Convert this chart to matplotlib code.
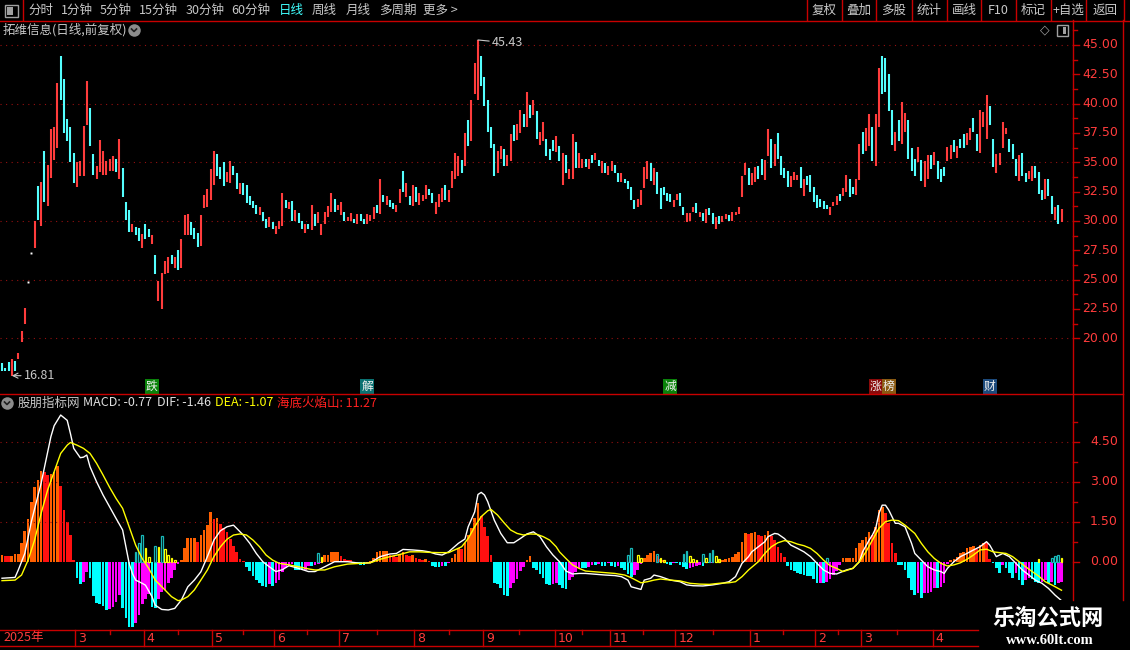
import numpy as np
import matplotlib
matplotlib.use('Agg')
import matplotlib.pyplot as plt
from matplotlib import transforms
from matplotlib.lines import Line2D
from matplotlib.patches import Rectangle

plt.rcParams['font.family'] = ['Noto Sans CJK SC', 'DejaVu Sans']

# ---------------- data ----------------
# daily bars: high / low, colour r=up c=down w=one-price bar
price_hi = [
    17.9, 17.5, 18.0, 18.2, 18.1, 18.7, 20.6, 22.6, 24.8, 27.3,
    30.0, 33.0, 33.3, 36.0, 34.8, 37.8, 38.0, 41.8, 44.1, 42.1,
    38.7, 38.0, 35.8, 35.0, 35.1, 38.1, 41.9, 39.6, 35.7, 34.7,
    36.9, 36.0, 35.1, 35.3, 35.5, 35.3, 37.0, 34.5, 31.6, 30.9,
    29.7, 29.5, 29.4, 28.9, 29.7, 29.3, 28.8, 27.1, 24.9, 25.6,
    26.6, 26.9, 27.1, 26.9, 27.5, 28.5, 30.5, 30.6, 29.9, 29.4,
    29.0, 30.5, 32.2, 32.7, 34.4, 36.0, 35.7, 34.6, 35.0, 34.2,
    35.1, 34.7, 34.1, 33.2, 33.2, 33.1, 32.1, 31.7, 31.4, 31.2,
    30.8, 30.2, 30.3, 29.9, 29.6, 30.0,
    32.4, 31.8, 31.6, 31.7, 30.9, 30.7, 30.0, 29.7, 29.7, 31.4,
    30.6, 30.8, 29.7, 30.8, 31.3, 32.4, 31.9, 31.4, 31.6, 30.8,
    30.3, 30.7, 30.2, 30.6, 30.6, 30.2, 30.6, 30.5, 31.2, 31.4,
    33.6, 32.2, 32.1, 31.8, 31.5, 31.4, 32.7, 34.3, 33.2, 32.1,
    33.1, 32.9, 32.4, 32.2, 33.1, 32.7, 32.4, 31.6, 32.3, 32.8,
    33.1, 32.6, 34.3, 35.8, 35.5, 35.2, 37.5, 38.6, 40.3, 43.5,
    45.43, 44.1, 42.3, 40.3, 38.0, 36.6, 36.0, 36.4, 36.1, 35.6,
    37.4, 38.2, 38.3, 39.5, 39.1, 41.0, 39.9, 40.3, 39.4, 37.6,
    38.4, 37.0, 36.1, 36.9, 37.2, 36.4, 35.8, 35.6, 34.4, 37.4,
    36.7, 35.8, 35.3, 35.3, 35.3, 35.6, 35.8, 35.2, 35.1, 34.9,
    34.7, 35.1, 34.8, 34.1, 34.1, 33.6, 33.4, 32.9, 31.8, 31.9,
    32.6, 34.6, 35.1, 34.9, 34.5, 34.2, 32.8, 32.9, 32.4, 32.3,
    31.8, 32.3, 32.4, 31.2, 30.7, 30.7, 31.2, 31.5, 30.8, 30.7,
    31.0, 31.1, 30.7, 30.3, 30.4, 30.4, 30.6, 30.5, 30.8, 30.8,
    31.2, 33.8, 34.9, 34.5, 34.1, 34.6, 34.7, 35.3, 35.2, 37.8,
    37.0, 36.6, 37.5, 35.5, 34.5, 34.3, 33.8, 34.2, 33.9, 34.6,
    33.6, 33.8, 33.9,
    32.9, 32.2, 31.9, 31.7, 31.4, 31.2, 31.6, 32.1, 32.3, 32.8,
    33.9, 33.6, 32.9, 33.6, 36.6, 37.6, 37.9, 39.1, 38.0, 39.1,
    43.0, 44.1, 43.9, 42.5, 39.5, 37.6, 38.6, 40.1, 39.2, 38.6,
    36.2, 35.3, 36.3, 35.2, 35.1, 35.6, 35.6, 35.9, 35.1, 34.4,
    34.6, 36.3, 36.5, 36.9, 36.4, 37.0, 37.4, 37.5, 37.9, 38.8,
    37.4, 39.5, 39.3, 40.7, 39.8, 37.0, 35.7, 35.8, 38.4, 37.9,
    37.0, 36.6, 35.3, 35.6, 35.8, 34.1, 34.3, 34.7, 34.7, 34.2,
    32.6, 33.6, 33.6, 32.1, 31.2, 31.4, 31.0,
]
price_lo = [
    17.2, 17.2, 17.2, 16.81, 17.2, 18.2, 19.7, 21.2, 24.8, 27.3,
    27.7, 30.1, 29.6, 31.6, 31.3, 33.7, 35.2, 36.2, 40.3, 37.5,
    36.8, 35.0, 33.2, 32.9, 33.8, 33.8, 38.2, 36.4, 33.9, 33.6,
    34.2, 33.9, 33.9, 34.3, 34.3, 34.2, 33.6, 32.0, 30.1, 29.1,
    29.1, 28.8, 28.3, 27.7, 28.5, 28.6, 28.0, 25.5, 23.2, 22.5,
    25.5, 25.6, 26.3, 26.0, 25.8, 26.0, 28.8, 28.8, 28.8, 28.5,
    27.8, 27.9, 31.1, 31.2, 31.8, 33.1, 33.8, 33.6, 33.0, 33.3,
    33.2, 33.9, 32.7, 32.3, 32.2, 31.5, 31.4, 31.1, 30.6, 30.5,
    30.0, 29.4, 29.5, 29.3, 28.9, 29.3,
    29.6, 31.1, 31.0, 30.0, 30.0, 29.8, 29.3, 29.0, 29.3, 29.2,
    29.6, 29.8, 28.8, 29.7, 30.3, 30.8, 30.8, 30.9, 30.5, 30.0,
    30.0, 30.0, 29.8, 29.7, 30.0, 29.7, 29.7, 30.0, 30.2, 30.7,
    30.6, 31.6, 31.4, 31.2, 31.0, 30.8, 31.5, 32.5, 32.0, 31.4,
    31.3, 31.6, 31.4, 31.7, 31.9, 32.2, 31.5, 30.6, 31.2, 31.6,
    31.8, 31.6, 32.8, 33.6, 33.8, 34.1, 34.7, 36.4, 36.8, 40.8,
    40.3, 41.5, 39.8, 37.6, 36.2, 33.8, 34.1, 35.3, 34.7, 34.7,
    35.1, 36.8, 36.9, 37.5, 38.0, 38.0, 38.8, 39.0, 37.0, 36.5,
    36.8, 35.5, 35.2, 36.0, 35.9, 35.1, 33.1, 34.1, 33.6, 33.6,
    34.5, 34.5, 34.5, 34.6, 34.4, 34.9, 35.2, 34.7, 34.1, 34.1,
    33.9, 34.3, 34.1, 33.3, 33.3, 33.2, 32.7, 31.8, 31.0, 31.2,
    31.4, 32.8, 33.6, 33.4, 33.1, 32.3, 31.0, 32.2, 31.7, 31.6,
    31.2, 31.8, 31.3, 30.5, 29.9, 30.0, 30.8, 30.7, 30.3, 30.0,
    29.8, 30.5, 29.7, 29.3, 29.7, 29.9, 30.2, 30.0, 30.0, 30.5,
    30.6, 32.0, 33.9, 33.1, 33.1, 33.3, 33.6, 33.9, 33.5, 35.5,
    34.5, 34.7, 35.3, 33.9, 33.7, 32.9, 32.9, 33.5, 33.5, 32.8,
    32.1, 33.1, 32.5,
    31.6, 31.1, 31.2, 31.0, 31.0, 30.5, 31.3, 31.4, 31.7, 32.1,
    32.5, 32.0, 32.3, 32.2, 33.5, 35.7, 36.0, 36.4, 35.1, 34.7,
    38.0, 40.8, 41.0, 39.4, 36.5, 36.0, 36.8, 36.6, 37.6, 35.3,
    34.3, 33.8, 35.0, 33.4, 32.9, 33.6, 34.4, 34.8, 33.6, 33.3,
    33.8, 35.1, 35.3, 35.9, 35.4, 36.2, 36.2, 36.5, 36.9, 37.6,
    36.0, 35.8, 38.0, 37.0, 38.2, 34.6, 34.1, 34.8, 36.2, 37.4,
    35.9, 35.3, 33.8, 33.4, 33.8, 33.3, 33.6, 33.4, 33.7, 32.3,
    31.8, 31.9, 32.1, 30.6, 30.1, 29.7, 29.9,
]
candle_col = (
    "cccrcrrrww" "rcrcrrrrcc" "cccrrrrccr" "rrrrrcrccc" "rccrccrcrr"
    "rrcrcrrrcc" "crrrrrcccr" "rccrcccccr" "ccrcrr"
    "rcrcrccrcr" "crrrrrcrrc" "rrcrccrrrc" "rcrccrrcrc" "rcrrrccrrr"
    "crrrrcrcrr" "rcccccrrcr" "rcrrcrcrcr"
    "rcccrcrcrr" "crrcrcrcrc" "rrccrccccr" "rrrcrccccc" "rrccrrrcrc"
    "rccrcrrcrr" "rrrcrrccrr" "crccccrrrc" "rcc"
    "cccccrrrcr" "rccrrcrrcr" "rccccrcrrc" "ccrcrrcrcc" "crrcrccrrc"
    "crrrccrrrr" "cccrccrrcc" "crccrcr"
)

# MACD histogram, one value per bar
macd = [
    0.25, 0.22, 0.2, 0.22, 0.28, 0.3, 0.7, 1.15, 1.6, 2.25,
    2.8, 3.05, 3.4, 3.35, 3.25, 3.3, 3.37, 3.6, 2.84, 1.94,
    1.5, 1.0, 0.06, -0.6, -0.85, -0.75, -0.4, -0.6, -1.3, -1.55,
    -1.6, -1.65, -1.8, -1.78, -1.7, -1.5, -1.25, -1.75, -2.1, -2.45,
    -2.45, -2.3, -2.0, -1.6, -1.4, -1.2, -1.7, -1.75, -1.4, -1.15,
    -1.05, -0.8, -0.6, -0.3, -0.1, 0.05, 0.5, 0.9, 0.9, 0.9,
    0.75, 1.0, 1.2, 1.37, 1.85, 1.6, 1.65, 1.4, 1.25, 1.1,
    0.85, 0.6, 0.35, 0.1, 0.02, -0.19, -0.35, -0.55, -0.7, -0.8,
    -0.9, -0.95, -0.85, -0.9, -0.8, -0.7, -0.4, -0.25, -0.15, -0.1,
    -0.3, -0.3, -0.32, -0.3, -0.15, -0.15, -0.12, -0.1, -0.05, 0.25,
    0.25, 0.35, 0.36, 0.38, 0.2, 0.1, 0.07, 0.05, -0.05, -0.08,
    -0.12, -0.12, -0.05, 0.02, 0.12, 0.38, 0.4, 0.4, 0.41, 0.25,
    0.2, 0.18, 0.3, 0.37, 0.25, 0.2, 0.25, 0.12, 0.09, 0.06,
    0.09, 0.04, -0.15, -0.18, -0.18, -0.15, -0.17, -0.06, 0.12, 0.28,
    0.5, 0.48, 0.71, 1.0, 1.25, 1.62, 2.2, 1.7, 1.3, 0.96,
    0.25, -0.81, -0.85, -1.0, -1.25, -1.27, -1.0, -0.8, -0.63, -0.35,
    -0.18, 0.06, 0.21, -0.25, -0.3, -0.45, -0.6, -0.85, -0.87, -0.85,
    -0.8, -0.87, -1.0, -1.02, -0.69, -0.56, -0.37, -0.25, -0.25, -0.25,
    -0.2, -0.12, -0.12, -0.09, -0.15, -0.15, -0.06, -0.15, -0.19, -0.15,
    -0.25, -0.31, -0.46, -0.56, -0.5, -0.3, -0.1, 0.12, 0.25, 0.31,
    0.4, 0.21, 0.09, 0.06, -0.09, -0.12, -0.06, -0.06, -0.12, -0.19,
    -0.29, -0.25, -0.19, -0.15, -0.12, -0.15, -0.06, -0.06, -0.04, -0.04,
    0.06, 0.06, 0.09, 0.12, 0.19, 0.29, 0.37, 0.75, 1.06, 1.02,
    1.09, 1.1, 1.0, 0.96, 1.0, 1.15, 0.96, 0.81, 0.56, 0.31,
    0.16, -0.15, -0.31, -0.34, -0.41, -0.46, -0.5, -0.52, -0.54, -0.66,
    -0.81, -0.79, -0.8, -0.75, -0.66, -0.5, -0.35, -0.12, 0.12, 0.12,
    0.12, 0.14, 0.5, 0.69, 0.81, 0.94, 1.12, 1.0, 1.31, 1.94,
    2.06, 1.81, 1.44, 0.69, 0.31, -0.12, -0.12, -0.31, -0.62, -1.06,
    -1.25, -1.19, -1.37, -1.19, -1.16, -1.12, -0.98, -1.0, -0.96, -0.81,
    -0.1, 0.05, 0.09, 0.19, 0.31, 0.37, 0.5, 0.56, 0.59, 0.46,
    0.62, 0.71, 0.69, 0.09, -0.06, -0.25, -0.44, -0.12, -0.25, -0.44,
    -0.62, -0.44, -0.69, -0.87, -0.69, -0.62, -0.66, -0.75, -0.79, -0.75,
    -0.69, -0.79, -0.75, -0.87, -0.79, -0.77,
]

# DIF (white) and DEA (yellow): bar index / value pairs
dif_i = [0, 4, 5, 7, 9, 12, 15, 16, 18, 20, 21, 22, 24, 25, 26, 27, 29, 31, 33, 35,
         37, 38, 39, 40, 41, 43, 44, 46, 47, 49, 51, 53, 55, 57, 59, 61, 63, 65, 67, 69,
         71, 72, 74, 76, 78, 80, 82, 84, 86, 88, 91, 94, 96, 99, 102, 106, 110, 113, 116, 119,
         121, 123, 126, 129, 131, 133, 135, 137, 140, 142, 143, 145, 146, 147, 148, 149, 151, 153, 155, 157,
         159, 161, 163, 165, 167, 169, 171, 173, 175, 177, 179, 181, 185, 188, 190, 192, 193, 196, 197, 199,
         200, 202, 205, 208, 210, 212, 215, 218, 221, 223, 225, 227, 229, 230, 232, 234, 235, 237, 238, 240,
         242, 244, 246, 248, 250, 252, 254, 256, 259, 261, 263, 264, 266, 267, 268, 269, 270, 271, 272, 274,
         275, 277, 279, 280, 282, 284, 286, 288, 289, 290, 292, 294, 296, 298, 300, 302, 303, 305, 307, 309,
         311, 313, 315, 317, 319, 321, 323, 325]
dif_v = [-0.62, -0.59, -0.31, 0.31, 1.5, 2.94, 4.69, 5.1, 5.5, 5.3, 4.8, 4.25, 3.9, 3.92, 4.0, 3.56, 3.0, 2.5, 2.06, 1.62,
         1.19, 0.56, -0.06, -0.44, -0.69, -0.81, -0.88, -1.31, -1.63, -1.79, -1.81, -1.75, -1.44, -0.94, -0.69, -0.38, 0.19, 0.81, 1.16, 1.31,
         1.37, 1.25, 1.0, 0.69, 0.31, 0.0, -0.19, -0.37, -0.3, -0.15, -0.25, -0.37, -0.37, -0.19, 0.0, 0.0, -0.06, -0.04, 0.19, 0.29,
         0.31, 0.46, 0.44, 0.41, 0.37, 0.29, 0.25, 0.37, 0.69, 0.85, 1.31, 1.87, 2.52, 2.6, 2.5, 2.25, 1.56, 1.06, 0.71, 0.71,
         0.87, 1.04, 1.12, 0.94, 0.56, 0.25, 0.0, -0.35, -0.46, -0.44, -0.44, -0.46, -0.5, -0.52, -0.56, -0.69, -0.94, -1.04, -0.69, -0.62,
         -0.5, -0.56, -0.69, -0.75, -0.87, -0.9, -0.91, -0.87, -0.81, -0.75, -0.56, -0.06, 0.19, 0.37, 0.56, 0.75, 0.94, 1.06, 1.04, 0.87,
         0.62, 0.5, 0.37, 0.19, -0.06, -0.31, -0.44, -0.46, -0.31, -0.25, 0.0, 0.37, 0.81, 1.0, 1.25, 1.81, 2.12, 2.12, 1.94, 1.44,
         1.44, 1.31, 0.69, 0.31, 0.06, -0.19, -0.31, -0.37, -0.44, -0.25, 0.0, 0.19, 0.31, 0.44, 0.56, 0.75, 0.62, 0.19, 0.31, 0.19,
         -0.06, -0.31, -0.5, -0.69, -0.81, -1.0, -1.25, -1.46]
dea_i = [0, 4, 6, 8, 10, 12, 14, 16, 18, 20, 21, 23, 25, 27, 29, 31, 33, 35, 37, 39,
         41, 43, 45, 47, 50, 52, 54, 55, 57, 59, 61, 63, 65, 67, 69, 71, 73, 75, 77, 79,
         81, 83, 85, 88, 91, 94, 96, 99, 102, 106, 110, 113, 116, 119, 122, 125, 128, 131, 134, 137,
         141, 143, 145, 147, 149, 150, 152, 154, 156, 158, 160, 162, 164, 166, 168, 170, 171, 173, 175, 177,
         179, 181, 185, 188, 191, 193, 196, 198, 200, 202, 205, 208, 211, 214, 217, 220, 223, 225, 227, 229,
         232, 234, 236, 238, 240, 242, 244, 246, 248, 250, 252, 254, 256, 258, 261, 263, 265, 267, 269, 271,
         273, 275, 277, 280, 282, 284, 286, 288, 290, 292, 294, 296, 298, 300, 302, 304, 306, 308, 310, 312,
         314, 316, 318, 320, 322, 325]
dea_v = [-0.71, -0.69, -0.5, 0.06, 0.81, 1.81, 2.69, 3.37, 4.06, 4.37, 4.47, 4.37, 4.25, 4.06, 3.69, 3.25, 2.79, 2.37, 2.0, 1.31,
         0.62, 0.12, -0.25, -0.69, -1.06, -1.31, -1.46, -1.44, -1.31, -1.06, -0.69, -0.31, 0.19, 0.56, 0.84, 1.0, 1.04, 1.0, 0.81, 0.56,
         0.25, 0.06, -0.06, -0.12, -0.19, -0.27, -0.31, -0.31, -0.19, -0.09, -0.06, -0.04, 0.09, 0.19, 0.27, 0.37, 0.37, 0.35, 0.34, 0.34,
         0.56, 0.87, 1.31, 1.69, 1.91, 1.96, 1.75, 1.46, 1.19, 1.06, 1.0, 1.04, 1.03, 0.94, 0.81, 0.56, 0.37, 0.12, -0.12, -0.25,
         -0.35, -0.37, -0.41, -0.44, -0.5, -0.6, -0.79, -0.75, -0.69, -0.65, -0.69, -0.72, -0.81, -0.84, -0.85, -0.81, -0.79, -0.75, -0.56, -0.31,
         0.0, 0.31, 0.56, 0.71, 0.79, 0.75, 0.66, 0.6, 0.5, 0.31, 0.06, -0.15, -0.25, -0.37, -0.25, 0.0, 0.37, 0.81, 1.25, 1.5,
         1.56, 1.54, 1.37, 1.06, 0.69, 0.37, 0.12, -0.06, -0.16, -0.12, -0.04, 0.09, 0.25, 0.44, 0.47, 0.37, 0.34, 0.31, 0.19, 0.0,
         -0.19, -0.37, -0.54, -0.75, -0.87, -1.07]

# hollow 海底火焰山 bars
flame_i = [41, 42, 43, 44, 45, 47, 48, 49, 50, 51, 52, 53, 97, 98, 192, 193, 195, 196,
           201, 202, 203, 209, 210, 211, 212, 213, 215, 216, 217, 218, 219, 220, 253, 318, 322, 323, 324, 325]
flame_v = [0.37, 0.69, 1.0, 0.5, 0.19, 0.6, 0.56, 0.96, 0.46, 0.25, 0.12, 0.06, 0.34, 0.16, 0.25, 0.5, 0.25, 0.12,
           0.29, 0.12, 0.06, 0.29, 0.4, 0.21, 0.09, 0.06, 0.29, 0.12, 0.31, 0.44, 0.21, 0.09, 0.12, 0.1, 0.12, 0.2, 0.25, 0.12]

month_ticks = [22.5, 43.5, 64.5, 83.5, 103.5, 126.5, 147.5, 169.5, 186.5, 206.5, 229.5, 249.5, 263.5, 285.5]
month_labels = ['3', '4', '5', '6', '7', '8', '9', '10', '11', '12', '1', '2', '3', '4']

event_i = [46, 112, 205, 268, 272, 303]
event_txt = ['跌', '解', '减', '涨', '榜', '财']
event_bg = ['#0a820a', '#0a7272', '#0a820a', '#8a0a0a', '#8a5a12', '#1c4a7c']

price_ticks = [20.0, 22.5, 25.0, 27.5, 30.0, 32.5, 35.0, 37.5, 40.0, 42.5, 45.0]
macd_ticks = [0.0, 1.5, 3.0, 4.5]

left_menu = ['分时', '1分钟', '5分钟', '15分钟', '30分钟', '60分钟', '日线', '周线', '月线', '多周期', '更多 >']
left_menu_x = [28, 61, 100, 139, 186, 231, 279, 312, 346, 379, 423]
right_menu = ['复权', '叠加', '多股', '统计', '画线', 'F10', '标记', '+自选', '返回']
right_sep = [807, 842, 876, 912, 947, 981, 1016, 1051, 1086, 1124]

# ---------------- figure ----------------
W, H = 1130, 650
RED = '#c80000'
TXT = '#c8c8c8'
LAB = '#ff3c3c'


def fx(x):
    return x / W


def fy(y):
    return 1 - y / H


def fline(xs, ys, color=RED, lw=1.0, **kw):
    fig.add_artist(Line2D([fx(v) for v in xs], [fy(v) for v in ys], color=color, lw=lw,
                          transform=fig.transFigure, **kw))


fig = plt.figure(figsize=(W / 100, H / 100), dpi=100, facecolor='black')
ax_p = fig.add_axes([0, fy(394), fx(1073), (394 - 20) / H])
ax_m = fig.add_axes([0, fy(630), fx(1073), (630 - 394) / H])
xl = (-2 / 3.26, (1073 - 2) / 3.26)
for ax in (ax_p, ax_m):
    ax.set_axis_off()
    ax.set_xlim(*xl)
ax_p.set_ylim(45 - (394 - 45) / 11.73, 45 + (45 - 20) / 11.73)
ax_m.set_ylim((561.7 - 630) / 26.67, (561.7 - 394) / 26.67)

# grid
for v in [20, 25, 30, 35, 40, 45]:
    ax_p.axhline(v, color='#961010', lw=0.8, ls=(0, (1, 4)), dash_capstyle='butt')
for v in [1.5, 3.0, 4.5]:
    ax_m.axhline(v, color='#961010', lw=0.8, ls=(0, (1, 4)), dash_capstyle='butt')

# candles
idx = np.arange(len(price_hi))
hi = np.array(price_hi)
lo = np.array(price_lo)
cmap = {'r': '#ff3c3c', 'c': '#54ffff', 'w': '#ffffff'}
cols = [cmap[c] for c in candle_col]
ax_p.vlines(idx, lo, hi, colors=cols, lw=1.5)
flat = np.array([c == 'w' for c in candle_col])
ax_p.plot(idx[flat], hi[flat], ls='none', marker='s', ms=1.4, color='white', mec='none')

ax_p.annotate('16.81', xy=(3, min(price_lo)), xytext=(12, 0), textcoords='offset pixels',
              ha='left', va='center', color=TXT, fontsize=9,
              arrowprops=dict(arrowstyle='->', color=TXT, lw=0.8, shrinkA=0, shrinkB=0))
ax_p.annotate('45.43', xy=(int(np.argmax(hi)), max(price_hi)), xytext=(14, -3), textcoords='offset pixels',
              ha='left', va='center', color=TXT, fontsize=9,
              arrowprops=dict(arrowstyle='-', color=TXT, lw=0.8, shrinkA=0, shrinkB=0))

tr_ev = transforms.blended_transform_factory(ax_p.transData, ax_p.transAxes)
for i, t, bg in zip(event_i, event_txt, event_bg):
    ax_p.text(i, 0.021, t, transform=tr_ev, ha='center', va='center', color='#f0f0f0', fontsize=8.5,
              bbox=dict(boxstyle='square,pad=0.08', fc=bg, ec='none'))

# macd histogram
m = np.array(macd)
prev = np.r_[m[0], m[:-1]]
mcols = np.where(m >= 0, np.where(m >= prev, '#ff6000', '#ff1010'),
                 np.where(m <= prev, '#00ffff', '#ff00ff'))
ax_m.bar(idx, m, width=0.82, color=mcols, linewidth=0)
fv = np.array(flame_v)
fprev = np.r_[0, fv[:-1]]
fcols = np.where(fv >= fprev, '#18b8b8', '#ffff00')
ax_m.bar(flame_i, fv, width=0.5, fill=False, edgecolor=fcols, linewidth=0.9)
ax_m.plot(dif_i, dif_v, color='white', lw=1.0)
ax_m.plot(dea_i, dea_v, color='#ffff00', lw=1.0)

# right axis labels
tr_rp = transforms.blended_transform_factory(fig.transFigure, ax_p.transData)
tr_rm = transforms.blended_transform_factory(fig.transFigure, ax_m.transData)
for v in price_ticks:
    fig.text(fx(1118), v, f'{v:.2f}', transform=tr_rp, ha='right', va='center', color=LAB, fontsize=9,
             family='DejaVu Sans')
    fig.add_artist(Line2D([fx(1073), fx(1079)], [v, v], color=RED, lw=1, transform=tr_rp))
    fig.add_artist(Line2D([fx(1073), fx(1077)], [v + 1.25, v + 1.25], color=RED, lw=1, transform=tr_rp))
for v in macd_ticks:
    fig.text(fx(1118), v, f'{v:.2f}', transform=tr_rm, ha='right', va='center', color=LAB, fontsize=9,
             family='DejaVu Sans')
    fig.add_artist(Line2D([fx(1073), fx(1079)], [v, v], color=RED, lw=1, transform=tr_rm))
    fig.add_artist(Line2D([fx(1073), fx(1077)], [v + 0.75, v + 0.75], color=RED, lw=1, transform=tr_rm))

# date axis
tr_d = transforms.blended_transform_factory(ax_m.transData, fig.transFigure)
tr_dl = transforms.offset_copy(tr_d, fig=fig, x=3, y=0, units='dots')
fig.text(fx(3), fy(638), '2025年', color=LAB, fontsize=9, va='center')
edges = [xl[0]] + month_ticks
for k, t in enumerate(month_ticks):
    fig.add_artist(Line2D([t, t], [fy(630), fy(646)], color=RED, lw=1, transform=tr_d))
    fig.text(t, fy(638), month_labels[k], transform=tr_dl, color=LAB, fontsize=9, va='center',
             family='DejaVu Sans')
for a, b in zip(edges[:-1], edges[1:]):
    mid = (a + b) / 2
    fig.add_artist(Line2D([mid, mid], [fy(630), fy(634)], color=RED, lw=1, transform=tr_d))
fline([0, 978], [630, 630])
fline([0, 978], [646, 646])

# frame lines
fline([0, W], [20.5, 20.5])
fline([0, 1123], [394, 394])
fline([1073, 1073], [20, 600])
fline([1123, 1123], [20, 600])
fline([23, 23], [0, 20])
for x in right_sep:
    fline([x, x], [0, 20])

# toolbar
fig.add_artist(Rectangle((fx(5), fy(17)), fx(13), 12 / H, transform=fig.transFigure,
                         fill=False, ec='#a0a0a0', lw=1))
fig.add_artist(Rectangle((fx(7), fy(15)), fx(6), 8 / H, transform=fig.transFigure,
                         fc='#a0a0a0', ec='none'))
for x, t in zip(left_menu_x, left_menu):
    fig.text(fx(x), fy(10.5), t, color='#40ffff' if t == '日线' else TXT, fontsize=9, va='center')
for k, t in enumerate(right_menu):
    fig.text(fx((right_sep[k] + right_sep[k + 1]) / 2), fy(10.5), t, color=TXT, fontsize=9,
             va='center', ha='center')

# titles
fig.text(fx(3), fy(30), '拓维信息(日线,前复权)', color=TXT, fontsize=9, va='center')
for (cx, cy) in [(134, 30), (7, 403)]:
    fig.add_artist(Line2D([fx(cx)], [fy(cy)], marker='o', ms=9, color='#8c8c8c', mec='none',
                          transform=fig.transFigure))
    fig.add_artist(Line2D([fx(cx - 2.5), fx(cx), fx(cx + 2.5)], [fy(cy - 1), fy(cy + 1.5), fy(cy - 1)],
                          color='#202020', lw=1.2, transform=fig.transFigure))
fig.text(fx(1045), fy(30), '◇', color='#a0a0a0', fontsize=9, va='center', ha='center',
         family=['DejaVu Sans'])
fig.add_artist(Rectangle((fx(1057), fy(36)), fx(11), 11 / H, transform=fig.transFigure,
                         fill=False, ec='#a0a0a0', lw=1))
fig.add_artist(Rectangle((fx(1063), fy(34)), fx(3), 7 / H, transform=fig.transFigure,
                         fc='#a0a0a0', ec='none'))

fig.text(fx(18), fy(403), '股朋指标网', color=TXT, fontsize=9, va='center')
fig.text(fx(83), fy(403), f'MACD: {macd[-1]:.2f}', color='#e0e0e0', fontsize=9, va='center')
fig.text(fx(157), fy(403), f'DIF: {dif_v[-1]:.2f}', color='#e0e0e0', fontsize=9, va='center')
fig.text(fx(215), fy(403), f'DEA: {dea_v[-1]:.2f}', color='#ffff00', fontsize=9, va='center')
fig.text(fx(277), fy(403), '海底火焰山: 11.27', color='#ff2020', fontsize=9, va='center')

# watermark
fig.add_artist(Rectangle((fx(978), 0), 1 - fx(978), 50 / H, transform=fig.transFigure,
                         fc='black', ec='none'))
fig.text(fx(1048), fy(618), '乐淘公式网', color='white', fontsize=16, fontweight='bold',
         ha='center', va='center')
fig.text(fx(1050), fy(640), 'www.60lt.com', color='white', fontsize=10.5, fontweight='bold',
         ha='center', va='center', family='Liberation Serif')

fig.savefig('out.png', dpi=100, facecolor='black')
